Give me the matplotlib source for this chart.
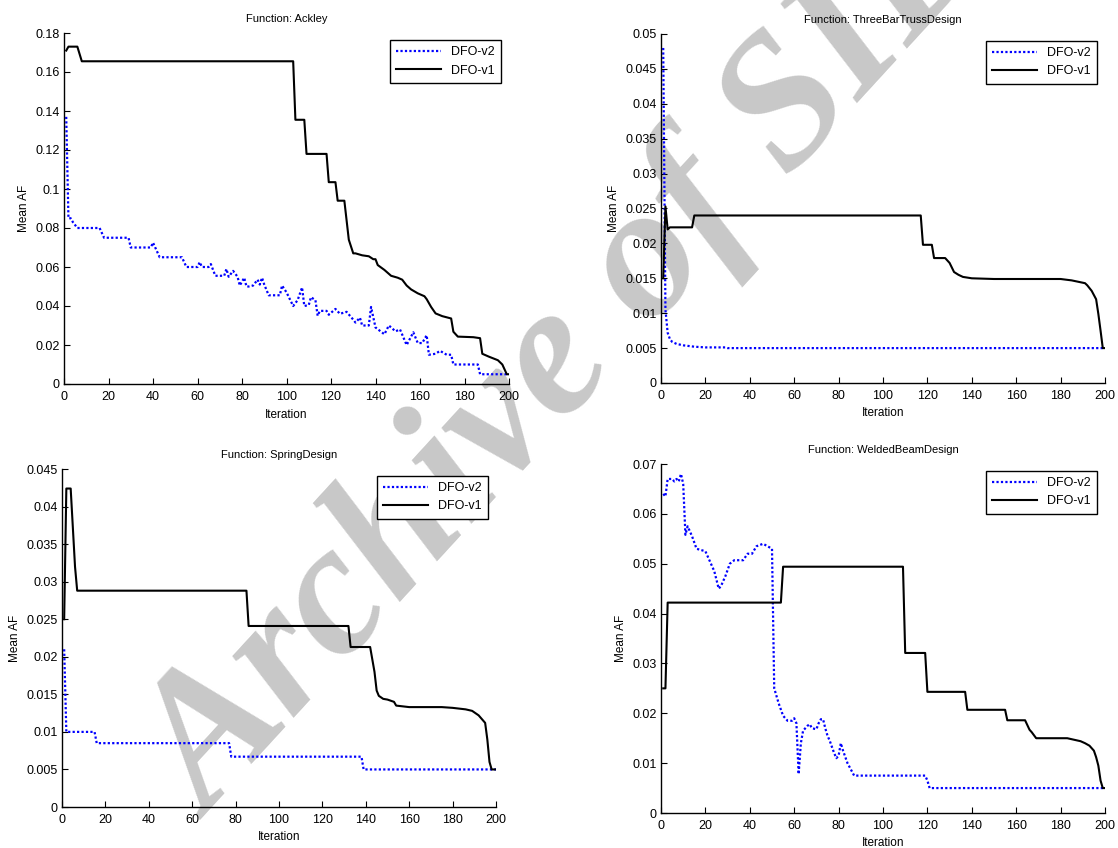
import matplotlib
matplotlib.use("Agg")
import matplotlib.pyplot as plt
from matplotlib.ticker import FuncFormatter, MultipleLocator

plt.rcParams["font.family"] = ["Liberation Sans", "DejaVu Sans"]

# --- data (iteration, mean AF) ---
ACKLEY_V2_X = [1, 2, 3, 4, 6, 16, 18, 29, 30, 39,
               40, 41, 43, 53, 55, 60, 61, 62, 65, 66,
               68, 72, 73, 74, 76, 78, 79, 81, 82, 83,
               85, 87, 88, 89, 90, 92, 97, 98, 100, 103,
               105, 107, 108, 110, 111, 113, 114, 115, 118, 119,
               122, 124, 127, 130, 131, 133, 134, 137, 138, 140,
               144, 146, 149, 151, 154, 157, 159, 161, 163, 164,
               167, 169, 172, 174, 175, 186, 187, 200]
ACKLEY_V2_Y = [0.137, 0.085, 0.085, 0.083, 0.080, 0.080, 0.075, 0.075, 0.070, 0.070,
               0.0725, 0.070, 0.065, 0.065, 0.060, 0.060, 0.0625, 0.060, 0.060, 0.0615,
               0.0555, 0.0555, 0.059, 0.055, 0.058, 0.055, 0.0505, 0.0545, 0.050, 0.050,
               0.0505, 0.0535, 0.051, 0.0545, 0.051, 0.0455, 0.0455, 0.0505, 0.047, 0.040,
               0.043, 0.0495, 0.040, 0.0405, 0.0445, 0.043, 0.035, 0.0375, 0.0375, 0.0355,
               0.0385, 0.036, 0.037, 0.033, 0.0315, 0.034, 0.030, 0.030, 0.0395, 0.029,
               0.0255, 0.030, 0.027, 0.028, 0.020, 0.0265, 0.021, 0.021, 0.025, 0.015,
               0.0155, 0.017, 0.015, 0.015, 0.010, 0.010, 0.005, 0.005]
ACKLEY_V1_X = [1, 2, 6, 8, 103, 104, 108, 109, 118, 119, 122, 123, 126, 128, 130,
               131, 134, 137, 139, 140, 141, 144, 147, 150, 152, 154, 156, 159, 162,
               163, 165, 167, 170, 174, 175, 177, 184, 187, 188, 191, 195, 197, 199, 200]
ACKLEY_V1_Y = [0.171, 0.173, 0.173, 0.1655, 0.1655, 0.1355, 0.1355, 0.118, 0.118,
               0.1035, 0.1035, 0.094, 0.094, 0.074, 0.067, 0.067, 0.066, 0.0655,
               0.064, 0.064, 0.061, 0.0585, 0.0555, 0.0545, 0.0535, 0.0505, 0.0485,
               0.0465, 0.045, 0.0435, 0.0395, 0.0362, 0.0348, 0.0336, 0.0268, 0.0243,
               0.024, 0.0235, 0.0155, 0.014, 0.0122, 0.010, 0.005, 0.005]

TRUSS_V2_X = [1, 2, 3, 4, 5, 7, 10, 15, 20, 29, 30, 200]
TRUSS_V2_Y = [0.048, 0.0105, 0.0072, 0.0063, 0.0059, 0.0056, 0.0054, 0.0052,
              0.0051, 0.0051, 0.005, 0.005]
TRUSS_V1_X = [1, 2, 3, 4, 14, 15, 117, 118, 122, 123, 128, 130, 132, 134, 136,
              140, 150, 180, 185, 188, 191, 192, 194, 196, 197, 198, 199, 200]
TRUSS_V1_Y = [0.015, 0.0253, 0.022, 0.0223, 0.0223, 0.024, 0.024, 0.0198, 0.0198,
              0.0179, 0.0179, 0.0172, 0.0159, 0.0155, 0.0152, 0.0150, 0.0149, 0.0149,
              0.0147, 0.0145, 0.0143, 0.014, 0.0132, 0.012, 0.0099, 0.0075, 0.005, 0.005]

SPRING_V2_X = [1, 2, 15, 16, 77, 78, 138, 139, 200]
SPRING_V2_Y = [0.021, 0.010, 0.010, 0.0085, 0.0085, 0.0067, 0.0067, 0.005, 0.005]
SPRING_V1_X = [1, 2, 4, 6, 7, 85, 86, 132, 133, 142, 144, 145, 146, 148, 150,
               152, 153, 154, 160, 175, 180, 186, 189, 192, 195, 196, 197, 198, 200]
SPRING_V1_Y = [0.025, 0.0424, 0.0424, 0.032, 0.0288, 0.0288, 0.0241, 0.0241, 0.0213,
               0.0213, 0.018, 0.0155, 0.0148, 0.0144, 0.0143, 0.0141, 0.014, 0.0135,
               0.0133, 0.0133, 0.0132, 0.013, 0.0128, 0.0122, 0.0112, 0.009, 0.006,
               0.005, 0.005]

WELDED_V2_X = [1, 2, 3, 5, 6, 7, 8, 9, 10, 11,
               12, 14, 16, 20, 24, 26, 27, 29, 31, 33,
               37, 39, 41, 43, 46, 48, 50, 51, 52, 53,
               55, 57, 59, 60, 61, 62, 63, 64, 66, 67,
               68, 70, 71, 72, 73, 74, 75, 76, 78, 79,
               80, 81, 82, 84, 87, 119, 120, 121, 200]
WELDED_V2_Y = [0.064, 0.0635, 0.067, 0.067, 0.0665, 0.067, 0.0665, 0.068, 0.066, 0.0558,
               0.0575, 0.0555, 0.053, 0.0525, 0.0485, 0.045, 0.0455, 0.0475, 0.050, 0.0507,
               0.0507, 0.052, 0.052, 0.0535, 0.054, 0.0535, 0.053, 0.025, 0.0235, 0.022,
               0.0195, 0.0185, 0.0185, 0.019, 0.018, 0.0078, 0.014, 0.0165, 0.0175, 0.0178,
               0.017, 0.0168, 0.018, 0.0188, 0.0188, 0.017, 0.0155, 0.0145, 0.012, 0.011,
               0.0115, 0.014, 0.0125, 0.010, 0.0075, 0.0075, 0.0065, 0.005, 0.005]
WELDED_V1_X = [1, 2, 3, 54, 55, 109, 110, 119, 120, 137, 138, 155, 156, 164, 166,
               167, 169, 183, 186, 189, 191, 193, 195, 196, 197, 198, 199, 200]
WELDED_V1_Y = [0.025, 0.025, 0.0422, 0.0422, 0.0494, 0.0494, 0.0321, 0.0321, 0.0243,
               0.0243, 0.0207, 0.0207, 0.0186, 0.0186, 0.0167, 0.0162, 0.015, 0.015,
               0.0147, 0.0144, 0.014, 0.0135, 0.0125, 0.0112, 0.0095, 0.0065, 0.005, 0.005]

TITLES = ["Ackley", "ThreeBarTrussDesign", "SpringDesign", "WeldedBeamDesign"]
YMAX = [0.18, 0.05, 0.045, 0.07]
YSTEP = [0.02, 0.005, 0.005, 0.01]

# axes rectangles in figure pixels: left, right, top, bottom
W, H = 1118, 848
BOXES = [(64, 509, 33, 384), (661, 1105, 34, 383),
         (62, 496, 469, 807), (661, 1105, 464, 813)]

panels = [
    (ACKLEY_V2_X, ACKLEY_V2_Y, ACKLEY_V1_X, ACKLEY_V1_Y),
    (TRUSS_V2_X, TRUSS_V2_Y, TRUSS_V1_X, TRUSS_V1_Y),
    (SPRING_V2_X, SPRING_V2_Y, SPRING_V1_X, SPRING_V1_Y),
    (WELDED_V2_X, WELDED_V2_Y, WELDED_V1_X, WELDED_V1_Y),
]

fig = plt.figure(figsize=(W / 100, H / 100), dpi=100)

# watermark, behind the (transparent) axes
fig.text(573 / W, 1 - 355 / H, "Archive of SID", fontsize=136,
         family=["Liberation Serif", "DejaVu Serif"], style="italic",
         weight="bold", color="#c8c8c8", rotation=47.5,
         rotation_mode="anchor", ha="center", va="center", zorder=-5)

for k, (x2, y2, x1, y1) in enumerate(panels):
    l, r, t, b = BOXES[k]
    ax = fig.add_axes([l / W, 1 - b / H, (r - l) / W, (b - t) / H])
    ax.set_facecolor("none")
    ax.plot(x2, y2, color="#0000ff", linestyle=(0, (1, 1)), linewidth=1.6,
            label="DFO-v2")
    ax.plot(x1, y1, color="black", linewidth=1.5, label="DFO-v1")
    ax.set_xlim(0, 200)
    ax.set_ylim(0, YMAX[k])
    ax.xaxis.set_major_locator(MultipleLocator(20))
    ax.yaxis.set_major_locator(MultipleLocator(YSTEP[k]))
    ax.yaxis.set_major_formatter(FuncFormatter(lambda v, p: f"{round(v, 4):g}"))
    for side in ("top", "right"):
        ax.spines[side].set_visible(False)
    for side in ("left", "bottom"):
        ax.spines[side].set_linewidth(1.0)
    ax.tick_params(direction="in", length=4, width=0.8, labelsize=9)
    ax.tick_params(axis="x", pad=5)
    ax.tick_params(axis="y", pad=3)
    ax.set_title("Function: " + TITLES[k], fontsize=8, pad=8)
    ax.set_xlabel("Iteration", fontsize=8.5, labelpad=4)
    ax.set_ylabel("Mean AF", fontsize=8.5, labelpad=4)
    leg = ax.legend(loc="upper right", bbox_to_anchor=(0.982, 0.98),
                    fontsize=9, fancybox=False, framealpha=1,
                    edgecolor="black", handlelength=3.6, borderaxespad=0,
                    borderpad=0.5, labelspacing=0.5)
    leg.get_frame().set_linewidth(1.0)

fig.savefig("out.png", dpi=100)
